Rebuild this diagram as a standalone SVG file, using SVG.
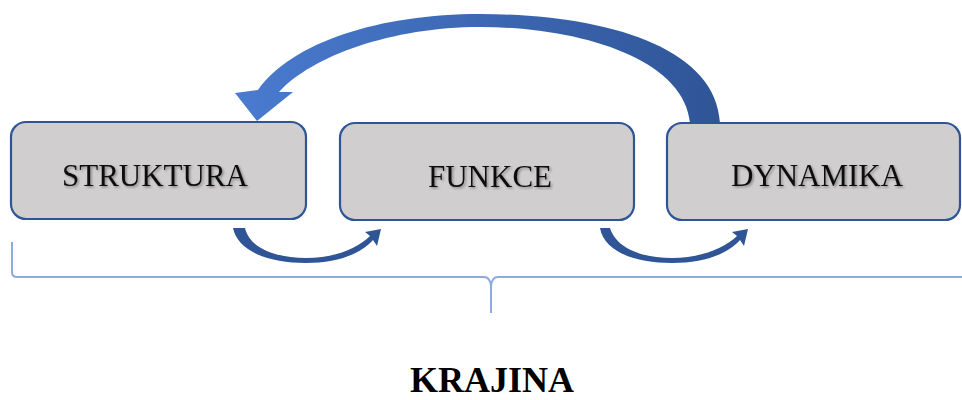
<svg xmlns="http://www.w3.org/2000/svg" width="962" height="400" viewBox="0 0 962 400">
<style>
.box{fill:#D0CECE;stroke:#2F5597;stroke-width:2.2}
.lbl{font-family:"Liberation Serif",serif;font-size:31px;fill:#111;text-anchor:middle;filter:url(#sh)}
.arr{fill:url(#g)}
.sm{fill:#2F5597}
.brace{fill:none;stroke:#8FAADC;stroke-width:2}
</style>
<defs>
<linearGradient id="g" x1="0" y1="0" x2="1" y2="0">
<stop offset="0" stop-color="#4A7BD0"/>
<stop offset="1" stop-color="#2F5597"/>
</linearGradient>
<filter id="sh" x="-10%" y="-30%" width="120%" height="160%">
<feDropShadow dx="1.5" dy="1.5" stdDeviation="1" flood-color="#000" flood-opacity="0.35"/>
</filter>
</defs>
<rect width="962" height="400" fill="#fff"/>
<g id="connectors">
<path class="arr" d="M720,123 C716,45 600,14 480,14 C380,14 292,42 258,90 L235,93 L257,121 L293,92 L279,92 C312,56 392,27 480,27 C578,27 684,58 690,123 Z"/>
<path class="sm" d="M233,228 L245,228 C250,250 280,258 306,258 C335,258 358,248 370,236 L365,232 L381,229 L377,246 L373,240 C360,255 335,263 306,263 C270,263 238,252 233,228 Z"/>
<path class="sm" d="M600,228 L610,228 C617,250 645,258 672,258 C700,258 725,248 737,236 L732,232 L748,229 L744,246 L740,240 C727,255 702,263 672,263 C636,263 604,252 600,228 Z"/>
<path class="brace" d="M12,242 L12,272 Q12,277 17,277 L484,277 Q490,277 491,286 L491,313 M491,286 Q492,277 498,277 L962,277"/>
</g>
<g id="n1"><rect class="box" x="11" y="122" width="295" height="97" rx="15"/><text class="lbl" x="155" y="186">STRUKTURA</text></g>
<g id="n2"><rect class="box" x="340" y="123" width="294" height="97" rx="15"/><text class="lbl" x="490" y="187">FUNKCE</text></g>
<g id="n3"><rect class="box" x="667" y="123" width="293" height="97" rx="15"/><text class="lbl" x="817" y="186">DYNAMIKA</text></g>
<g id="title"><text x="492" y="392" font-family="Liberation Serif,serif" font-size="36" font-weight="bold" text-anchor="middle" fill="#000">KRAJINA</text></g>
</svg>
